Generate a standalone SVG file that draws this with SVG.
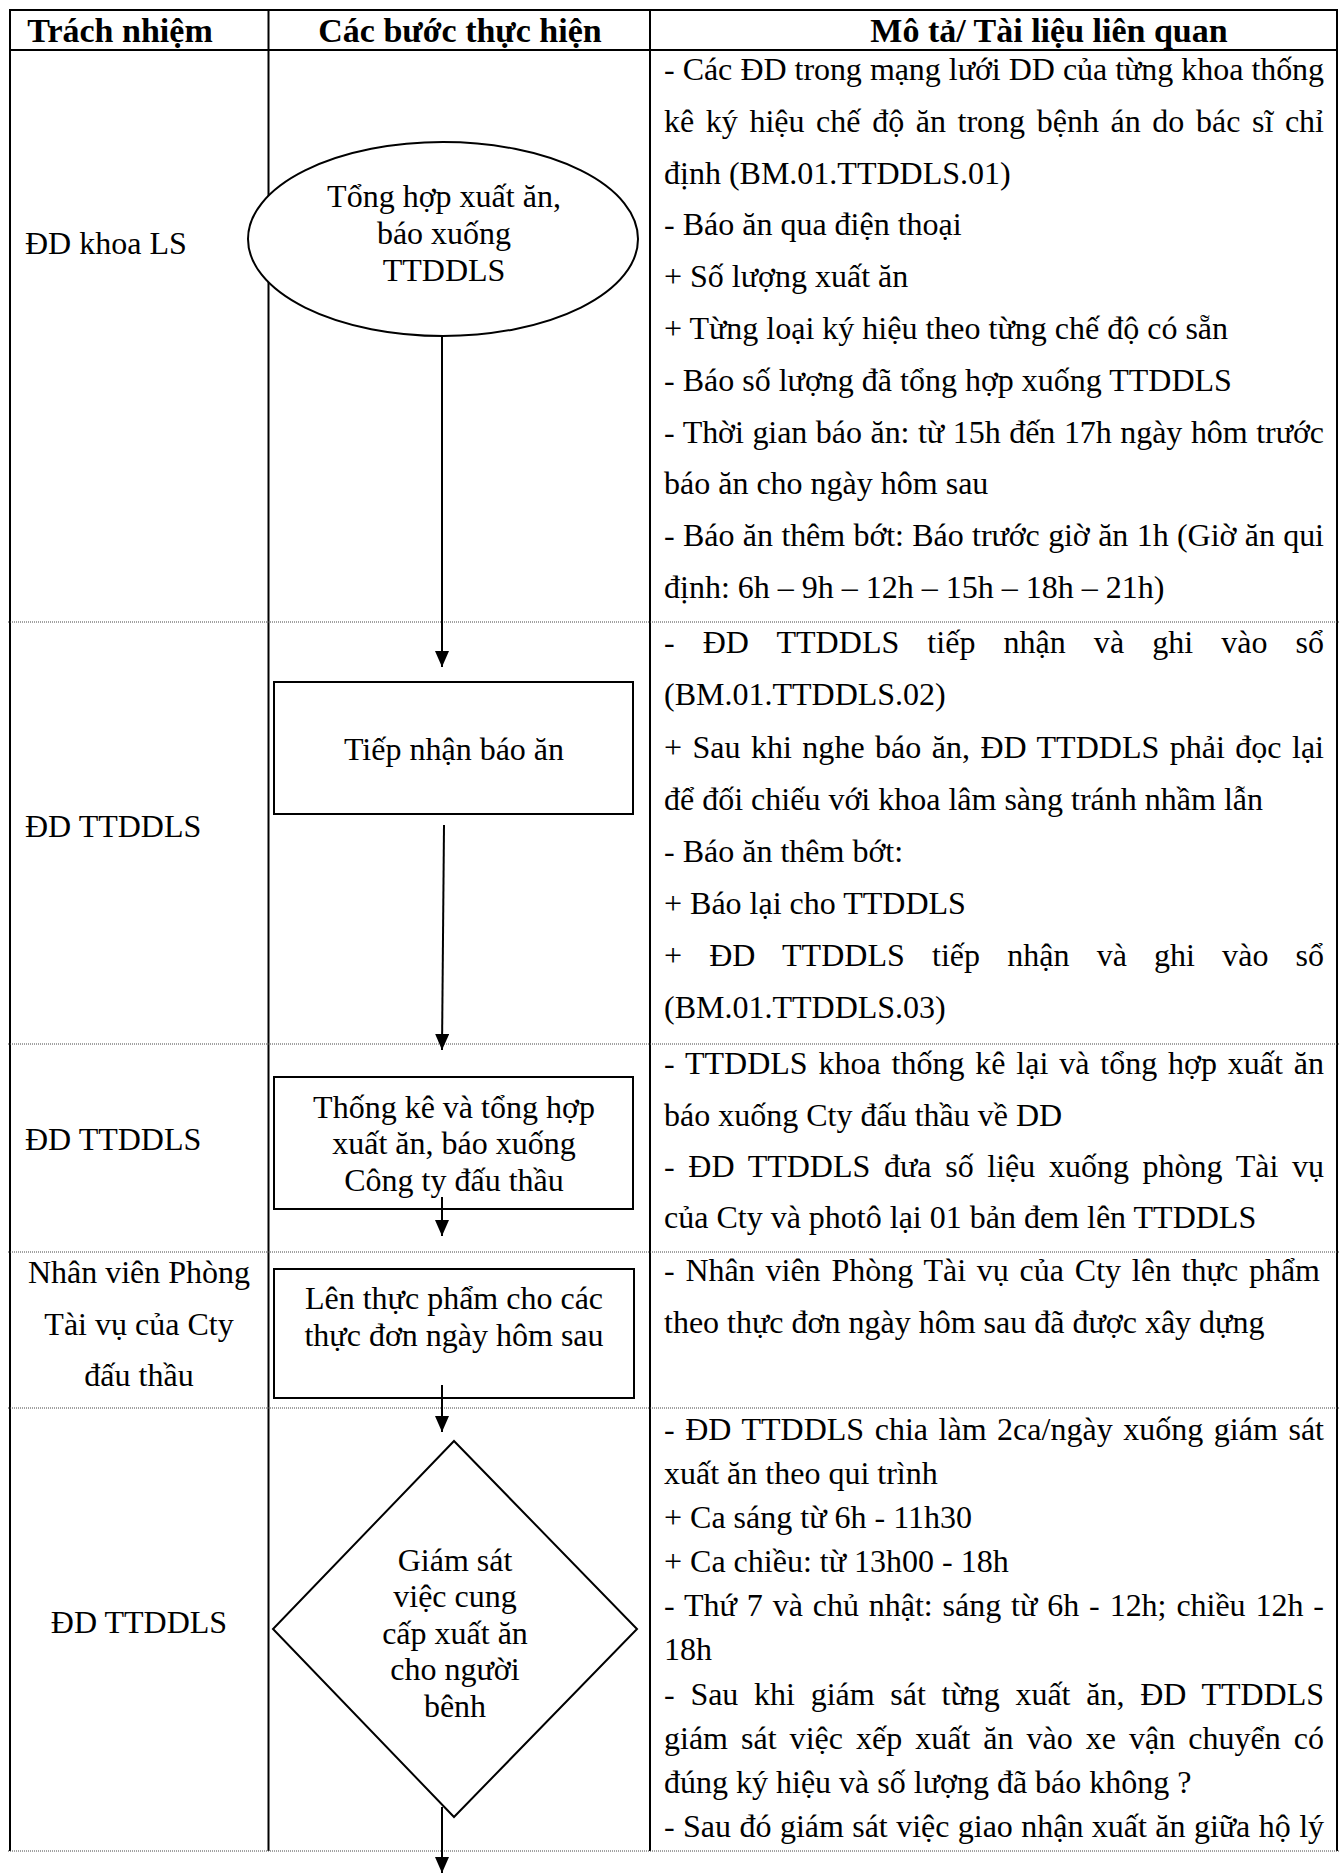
<svg xmlns="http://www.w3.org/2000/svg" width="1340" height="1874" viewBox="0 0 1340 1874">
<style>
text{font-family:"Liberation Serif","Times New Roman",serif;font-size:32px;fill:#000}
.hd{font-weight:bold;font-size:34px;text-anchor:middle}
.c{text-anchor:middle}
.solid{stroke:#000;stroke-width:2;fill:none}
.dot{stroke:#444;stroke-width:1;stroke-dasharray:1 1;fill:none}
.shape{fill:#fff;stroke:#000;stroke-width:2}
.conn{stroke:#000;stroke-width:2;fill:none}
</style>
<defs>
<marker id="ah" markerUnits="userSpaceOnUse" markerWidth="16" markerHeight="16" refX="16" refY="7" orient="auto">
<path d="M0,0 L16,7 L0,14 z" fill="#000"/>
</marker>
</defs>
<rect width="1340" height="1874" fill="#fff"/>
<g id="table">
<line class="solid" x1="9" y1="10" x2="1338" y2="10"/>
<line class="solid" x1="9" y1="50" x2="1338" y2="50"/>
<line class="solid" x1="10" y1="9" x2="10" y2="1851"/>
<line class="solid" x1="268.5" y1="9" x2="268.5" y2="1851"/>
<line class="solid" x1="650" y1="9" x2="650" y2="1851"/>
<line class="solid" x1="1337" y1="9" x2="1337" y2="1851"/>
<line class="dot" x1="8" y1="622" x2="1340" y2="622"/>
<line class="dot" x1="8" y1="1044" x2="1340" y2="1044"/>
<line class="dot" x1="8" y1="1252" x2="1340" y2="1252"/>
<line class="dot" x1="8" y1="1408" x2="1340" y2="1408"/>
<line class="dot" x1="8" y1="1851" x2="1340" y2="1851"/>
<text class="hd" x="120" y="42">Trách nhiệm</text>
<text class="hd" x="460" y="42">Các bước thực hiện</text>
<text class="hd" x="1049" y="42">Mô tả/ Tài liệu liên quan</text>
</g>
<g id="responsibility">
<text x="25" y="254">ĐD khoa LS</text>
<text x="25" y="837">ĐD TTDDLS</text>
<text x="25" y="1150">ĐD TTDDLS</text>
<text class="c" x="139" y="1283">Nhân viên Phòng</text>
<text class="c" x="139" y="1335">Tài vụ của Cty</text>
<text class="c" x="139" y="1386">đấu thầu</text>
<text class="c" x="139" y="1633">ĐD TTDDLS</text>
</g>
<g id="description">
<text x="664" y="80" word-spacing="0.2" textLength="660" lengthAdjust="spacing">- Các ĐD trong mạng lưới DD của từng khoa thống</text>
<text x="664" y="132" word-spacing="3.6" textLength="660" lengthAdjust="spacing">kê ký hiệu chế độ ăn trong bệnh án do bác sĩ chỉ</text>
<text x="664" y="184">định (BM.01.TTDDLS.01)</text>
<text x="664" y="235">- Báo ăn qua điện thoại</text>
<text x="664" y="287">+ Số lượng xuất ăn</text>
<text x="664" y="339">+ Từng loại ký hiệu theo từng chế độ có sẵn</text>
<text x="664" y="391">- Báo số lượng đã tổng hợp xuống TTDDLS</text>
<text x="664" y="443" word-spacing="0.7" textLength="660" lengthAdjust="spacing">- Thời gian báo ăn: từ 15h đến 17h ngày hôm trước</text>
<text x="664" y="494">báo ăn cho ngày hôm sau</text>
<text x="664" y="546" word-spacing="0.6" textLength="660" lengthAdjust="spacing">- Báo ăn thêm bớt: Báo trước giờ ăn 1h (Giờ ăn qui</text>
<text x="664" y="598">định: 6h – 9h – 12h – 15h – 18h – 21h)</text>

<text x="664" y="653" word-spacing="20" textLength="660" lengthAdjust="spacing">- ĐD TTDDLS tiếp nhận và ghi vào sổ</text>
<text x="664" y="705">(BM.01.TTDDLS.02)</text>
<text x="664" y="758" word-spacing="2.4" textLength="660" lengthAdjust="spacing">+ Sau khi nghe báo ăn, ĐD TTDDLS phải đọc lại</text>
<text x="664" y="810">để đối chiếu với khoa lâm sàng tránh nhầm lẫn</text>
<text x="664" y="862">- Báo ăn thêm bớt:</text>
<text x="664" y="914">+ Báo lại cho TTDDLS</text>
<text x="664" y="966" word-spacing="19" textLength="660" lengthAdjust="spacing">+ ĐD TTDDLS tiếp nhận và ghi vào sổ</text>
<text x="664" y="1018">(BM.01.TTDDLS.03)</text>

<text x="664" y="1074" word-spacing="2.9" textLength="660" lengthAdjust="spacing">- TTDDLS khoa thống kê lại và tổng hợp xuất ăn</text>
<text x="664" y="1126">báo xuống Cty đấu thầu về DD</text>
<text x="664" y="1177" word-spacing="5.7" textLength="660" lengthAdjust="spacing">- ĐD TTDDLS đưa số liệu xuống phòng Tài vụ</text>
<text x="664" y="1228">của Cty và photô lại 01 bản đem lên TTDDLS</text>

<text x="664" y="1281" word-spacing="2.8" textLength="656" lengthAdjust="spacing">- Nhân viên Phòng Tài vụ của Cty lên thực phẩm</text>
<text x="664" y="1333">theo thực đơn ngày hôm sau đã được xây dựng</text>

<text x="664" y="1440" word-spacing="2.5" textLength="660" lengthAdjust="spacing">- ĐD TTDDLS chia làm 2ca/ngày xuống giám sát</text>
<text x="664" y="1484">xuất ăn theo qui trình</text>
<text x="664" y="1528">+ Ca sáng từ 6h - 11h30</text>
<text x="664" y="1572">+ Ca chiều: từ 13h00 - 18h</text>
<text x="664" y="1616" word-spacing="2" textLength="660" lengthAdjust="spacing">- Thứ 7 và chủ nhật: sáng từ 6h - 12h; chiều 12h -</text>
<text x="664" y="1660">18h</text>
<text x="664" y="1705" word-spacing="7.8" textLength="660" lengthAdjust="spacing">- Sau khi giám sát từng xuất ăn, ĐD TTDDLS</text>
<text x="664" y="1749" word-spacing="5" textLength="660" lengthAdjust="spacing">giám sát việc xếp xuất ăn vào xe vận chuyển có</text>
<text x="664" y="1793">đúng ký hiệu và số lượng đã báo không ?</text>
<text x="664" y="1837" word-spacing="0.5" textLength="660" lengthAdjust="spacing">- Sau đó giám sát việc giao nhận xuất ăn giữa hộ lý</text>
</g>
<g id="node-tonghop">
<ellipse class="shape" cx="443" cy="239" rx="195" ry="97" stroke-width="1.6"/>
<text class="c" x="444" y="207">Tổng hợp xuất ăn,</text>
<text class="c" x="444" y="244">báo xuống</text>
<text class="c" x="444" y="281">TTDDLS</text>
</g>
<g id="node-tiepnhan">
<rect class="shape" x="274" y="682" width="359" height="132"/>
<text class="c" x="454" y="760">Tiếp nhận báo ăn</text>
</g>
<g id="node-thongke">
<rect class="shape" x="274" y="1077" width="359" height="132"/>
<text class="c" x="454" y="1118">Thống kê và tổng hợp</text>
<text class="c" x="454" y="1154">xuất ăn, báo xuống</text>
<text class="c" x="454" y="1191">Công ty đấu thầu</text>
</g>
<g id="node-lenthucpham">
<rect class="shape" x="274" y="1269" width="360" height="129"/>
<text class="c" x="454" y="1309">Lên thực phẩm cho các</text>
<text class="c" x="454" y="1346">thực đơn ngày hôm sau</text>
</g>
<g id="node-giamsat">
<polygon class="shape" points="454,1441 637,1629 454,1817 273,1629" stroke-width="1.6"/>
<text class="c" x="455" y="1571">Giám sát</text>
<text class="c" x="455" y="1607">việc cung</text>
<text class="c" x="455" y="1644">cấp xuất ăn</text>
<text class="c" x="455" y="1680">cho người</text>
<text class="c" x="455" y="1717">bênh</text>
</g>
<g id="connectors">
<line class="conn" x1="442" y1="336" x2="442" y2="667" marker-end="url(#ah)"/>
<line class="conn" x1="444" y1="825" x2="442" y2="1050" marker-end="url(#ah)"/>
<line class="conn" x1="442" y1="1197" x2="442" y2="1236" marker-end="url(#ah)"/>
<line class="conn" x1="442" y1="1385" x2="442" y2="1432" marker-end="url(#ah)"/>
<line class="conn" x1="442" y1="1807" x2="442" y2="1873" marker-end="url(#ah)"/>
</g>
</svg>
